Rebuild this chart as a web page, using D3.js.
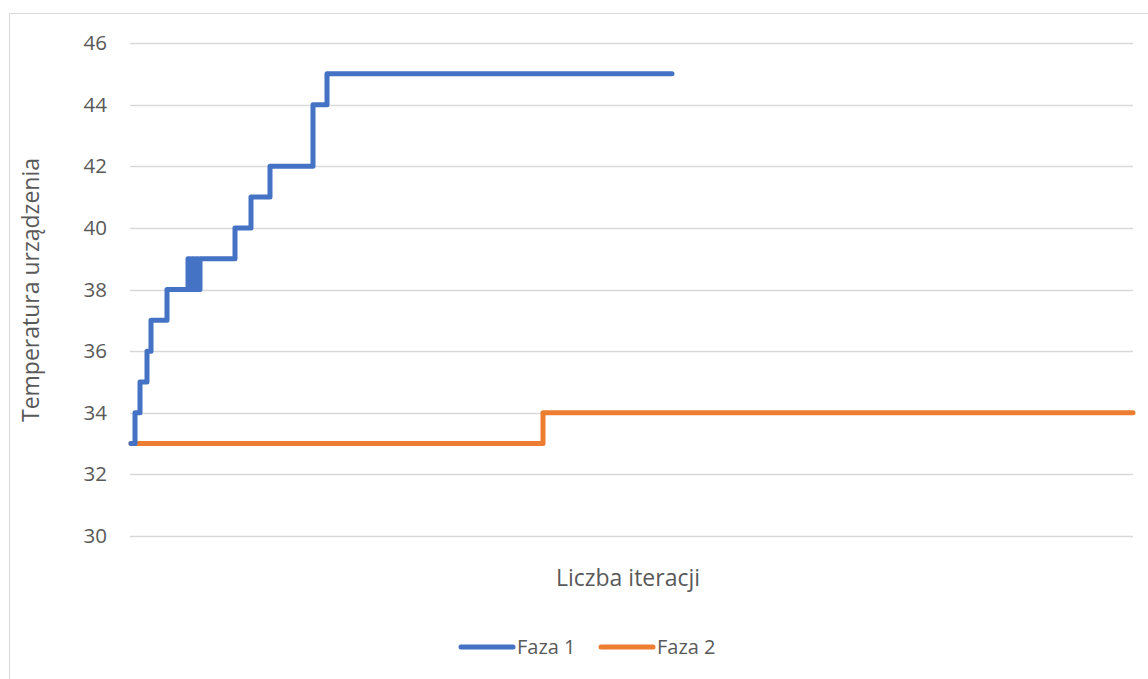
<!DOCTYPE html>
<html>
<head>
<meta charset="utf-8">
<script src="https://cdn.jsdelivr.net/npm/d3@7"></script>
<style>
  html, body { margin: 0; padding: 0; background: #fff; }
  svg { display: block; font-family: "Open Sans", "Liberation Sans", sans-serif; }
</style>
</head>
<body>
<svg id="chart" width="1148" height="679"></svg>
<script>
// Iteration at which the temperature changes, and the new temperature from there on
const faza1Iter = [0, 4, 9, 16, 20, 36, 57, 59, 61, 63, 65, 67, 69, 104, 120, 139, 182, 196, 541];
const faza1Temp = [33, 34, 35, 36, 37, 38, 39, 38, 39, 38, 39, 38, 39, 40, 41, 42, 44, 45, 45];
const faza2Iter = [0, 412, 1002];
const faza2Temp = [33, 34, 34];
const yTicks = [30, 32, 34, 36, 38, 40, 42, 44, 46];
const seriesNames = ["Faza 1", "Faza 2"];
const seriesColors = ["#4472C4", "#ED7D31"];
const iterationCount = 1002;

const svg = d3.select("#chart");

// outer chart frame
svg.append("rect")
  .attr("x", 9.5).attr("y", 13.5)
  .attr("width", 1200).attr("height", 700)
  .attr("fill", "none").attr("stroke", "#d9d9d9").attr("stroke-width", 1);

const plot = { left: 131, right: 1133, top: 43, bottom: 536 };

const x = d3.scaleLinear().domain([0, iterationCount]).range([plot.left, plot.right]);
const y = d3.scaleLinear().domain([30, 46]).range([plot.bottom, plot.top]);

// gridlines
svg.append("g").selectAll("line").data(yTicks).join("line")
  .attr("x1", plot.left - 1).attr("x2", plot.right)
  .attr("y1", d => Math.round(y(d)) + 0.5).attr("y2", d => Math.round(y(d)) + 0.5)
  .attr("stroke", "#d9d9d9").attr("stroke-width", 1.3);

// y axis labels
const yAxis = d3.axisLeft(y).tickValues(yTicks).tickSize(0).tickPadding(0);
const gy = svg.append("g").attr("transform", `translate(107,0)`).call(yAxis);
gy.select(".domain").remove();
gy.selectAll("text")
  .attr("fill", "#595959").style("font-size", "20.5px")
  .style("font-family", "'Open Sans', 'Liberation Sans', sans-serif");

// axis titles
svg.append("text")
  .attr("transform", "translate(39,290) rotate(-90)")
  .attr("text-anchor", "middle")
  .attr("fill", "#595959").style("font-size", "23px")
  .text("Temperatura urządzenia");

svg.append("text")
  .attr("x", 628).attr("y", 586)
  .attr("text-anchor", "middle")
  .attr("fill", "#595959").style("font-size", "23px")
  .text("Liczba iteracji");

// step lines
const line = d3.line()
  .x(d => x(d[0]))
  .y(d => y(d[1]))
  .curve(d3.curveStepAfter);

const series = [
  d3.zip(faza2Iter, faza2Temp),
  d3.zip(faza1Iter, faza1Temp)
];
const colorsDrawn = [seriesColors[1], seriesColors[0]];

series.forEach((pts, i) => {
  svg.append("path")
    .datum(pts)
    .attr("d", line)
    .attr("fill", "none")
    .attr("stroke", colorsDrawn[i])
    .attr("stroke-width", 5)
    .attr("stroke-linejoin", "round")
    .attr("stroke-linecap", "round");
});

// legend
const legendItems = [
  { name: seriesNames[0], color: seriesColors[0], x: 461 },
  { name: seriesNames[1], color: seriesColors[1], x: 601 }
];
const lg = svg.append("g");
legendItems.forEach(it => {
  lg.append("line")
    .attr("x1", it.x).attr("x2", it.x + 52)
    .attr("y1", 647).attr("y2", 647)
    .attr("stroke", it.color).attr("stroke-width", 5)
    .attr("stroke-linecap", "round");
  lg.append("text")
    .attr("x", it.x + 56).attr("y", 654)
    .attr("fill", "#595959").style("font-size", "20px")
    .text(it.name);
});
</script>
</body>
</html>
